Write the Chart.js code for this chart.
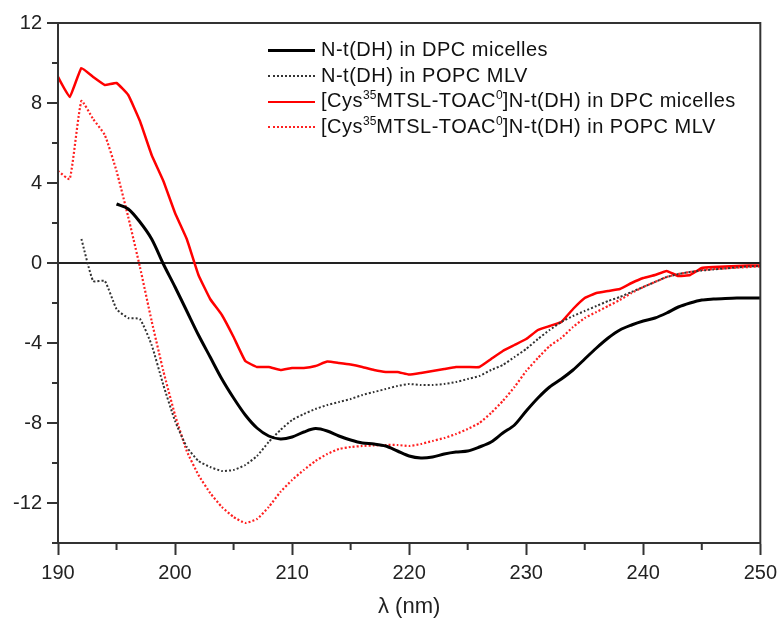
<!DOCTYPE html>
<html lang="en">

<head>
    <meta charset="UTF-8">
    <title>CD spectra</title>
    <style>
        body { margin: 0; background: #fff; }
        #wrap { position: relative; width: 783px; height: 626px; }
        #legend {
            position: absolute; left: 268px; top: 37px;
            font-family: "Liberation Sans", Arial, sans-serif; font-size: 20px; color: #111;
            letter-spacing: 0.5px;
        }
        #legend .row { height: 25.5px; line-height: 25.5px; white-space: nowrap; }
        #legend .smp { display: inline-block; width: 47px; vertical-align: middle; margin-right: 6px; }
        #legend sup { font-size: 12px; vertical-align: 8px; line-height: 0; letter-spacing: 0; }
    </style>
</head>

<body>
    <div id="wrap">
        <canvas id="myChart" width="783" height="626"></canvas>
        <div id="legend">
            <div class="row"><span class="smp" style="border-top:3px solid #000"></span>N-t(DH) in DPC micelles</div>
            <div class="row"><span class="smp" style="border-top:2px dotted #333"></span>N-t(DH) in POPC MLV</div>
            <div class="row"><span class="smp" style="border-top:2.5px solid #ff0000"></span>[Cys<sup>35</sup>MTSL-TOAC<sup>0</sup>]N-t(DH) in DPC micelles</div>
            <div class="row"><span class="smp" style="border-top:2px dotted #ff2020"></span>[Cys<sup>35</sup>MTSL-TOAC<sup>0</sup>]N-t(DH) in POPC MLV</div>
        </div>
    </div>

    <script src="https://cdn.jsdelivr.net/npm/chart.js"></script>

    <script>
        // wavelength (nm), 1 nm steps
        let v_nm = [190, 191, 192, 193, 194, 195, 196, 197, 198, 199,
            200, 201, 202, 203, 204, 205, 206, 207, 208, 209,
            210, 211, 212, 213, 214, 215, 216, 217, 218, 219,
            220, 221, 222, 223, 224, 225, 226, 227, 228, 229,
            230, 231, 232, 233, 234, 235, 236, 237, 238, 239,
            240, 241, 242, 243, 244, 245, 246, 247, 248, 249, 250];

        // N-t(DH) in DPC micelles
        let v_dpc = [null, null, null, null, null, 2.95, 2.7, 2.05, 1.2, -0.05,
            -1.2, -2.4, -3.6, -4.7, -5.8, -6.75, -7.6, -8.25, -8.65, -8.8,
            -8.7, -8.45, -8.28, -8.4, -8.65, -8.85, -9.0, -9.05, -9.15, -9.4,
            -9.65, -9.75, -9.7, -9.55, -9.45, -9.4, -9.2, -8.95, -8.5, -8.1,
            -7.4, -6.75, -6.2, -5.8, -5.35, -4.8, -4.25, -3.75, -3.35, -3.1,
            -2.9, -2.75, -2.5, -2.2, -2.0, -1.85, -1.8, -1.77, -1.75, -1.75, -1.75];

        // N-t(DH) in POPC MLV
        let v_popc = [null, null, 1.2, -0.9, -0.9, -2.3, -2.75, -2.8, -4.1, -6.1,
            -7.9, -9.2, -9.9, -10.2, -10.4, -10.35, -10.1, -9.65, -8.95, -8.35,
            -7.85, -7.55, -7.3, -7.1, -6.95, -6.8, -6.6, -6.45, -6.3, -6.15,
            -6.05, -6.1, -6.1, -6.05, -5.95, -5.8, -5.65, -5.35, -5.1, -4.7,
            -4.3, -3.8, -3.35, -2.95, -2.65, -2.4, -2.15, -1.9, -1.7, -1.45,
            -1.2, -0.95, -0.7, -0.55, -0.45, -0.38, -0.32, -0.27, -0.22, -0.17, -0.15];

        // [Cys35MTSL-TOAC0]N-t(DH) in DPC micelles
        let v_labDpc = [9.3, 8.3, 9.75, 9.3, 8.9, 9.0, 8.4, 7.1, 5.4, 4.1,
            2.5, 1.2, -0.6, -1.8, -2.6, -3.7, -4.9, -5.2, -5.2, -5.35,
            -5.25, -5.25, -5.15, -4.93, -5.0, -5.08, -5.2, -5.35, -5.45, -5.45,
            -5.58, -5.5, -5.4, -5.3, -5.2, -5.2, -5.2, -4.8, -4.4, -4.1,
            -3.8, -3.35, -3.15, -2.95, -2.3, -1.75, -1.5, -1.4, -1.3, -1.0,
            -0.75, -0.6, -0.4, -0.65, -0.6, -0.25, -0.2, -0.18, -0.15, -0.13, -0.12];

        // [Cys35MTSL-TOAC0]N-t(DH) in POPC MLV
        let v_labPopc = [4.6, 4.2, 8.1, 7.2, 6.4, 4.6, 2.3, -0.2, -2.9, -5.4,
            -7.6, -9.4, -10.6, -11.5, -12.2, -12.7, -13.0, -12.8, -12.2, -11.45,
            -10.85, -10.35, -9.9, -9.55, -9.3, -9.2, -9.15, -9.12, -9.1, -9.1,
            -9.15, -9.05, -8.9, -8.75, -8.55, -8.3, -8.0, -7.5, -6.9, -6.2,
            -5.4, -4.75, -4.15, -3.75, -3.2, -2.75, -2.45, -2.15, -1.85, -1.5,
            -1.2, -0.95, -0.7, -0.55, -0.45, -0.35, -0.3, -0.27, -0.23, -0.2, -0.17];

        let v_yTicks = [-12, -8, -4, 0, 4, 8, 12];
        let v_yMinor = [-14, -10, -6, -2, 2, 6, 10];
        let v_xMinor = [195, 205, 215, 225, 235, 245];

        function toPoints(arr) {
            let pts = [];
            for (let i = 0; i < v_nm.length; i++) {
                if (arr[i] !== null) pts.push({ x: v_nm[i], y: arr[i] });
            }
            return pts;
        }

        // frame + minor ticks
        const framePlugin = {
            id: 'frame',
            afterDraw(chart) {
                let c = chart.ctx;
                let a = chart.chartArea;
                let sx = chart.scales.x, sy = chart.scales.y;
                c.save();
                c.strokeStyle = '#333';
                c.lineWidth = 2;
                c.strokeRect(a.left, a.top, a.right - a.left, a.bottom - a.top);
                c.beginPath();
                v_yMinor.forEach(v => {
                    let py = sy.getPixelForValue(v);
                    c.moveTo(a.left - 6, py); c.lineTo(a.left, py);
                });
                v_xMinor.forEach(v => {
                    let px = sx.getPixelForValue(v);
                    c.moveTo(px, a.bottom); c.lineTo(px, a.bottom + 7);
                });
                c.stroke();
                c.restore();
            }
        };

        let ctx = document.getElementById('myChart');
        new Chart(ctx, {
            type: 'line',
            data: {
                datasets: [{
                    label: 'N-t(DH) in DPC micelles',
                    data: toPoints(v_dpc),
                    borderColor: '#000',
                    borderWidth: 3,
                    tension: 0.3
                }, {
                    label: 'N-t(DH) in POPC MLV',
                    data: toPoints(v_popc),
                    borderColor: '#333',
                    borderWidth: 2,
                    borderDash: [2, 2],
                    tension: 0.15
                }, {
                    label: '[Cys35MTSL-TOAC0]N-t(DH) in DPC micelles',
                    data: toPoints(v_labDpc),
                    borderColor: '#ff0000',
                    borderWidth: 2.5,
                    tension: 0.1
                }, {
                    label: '[Cys35MTSL-TOAC0]N-t(DH) in POPC MLV',
                    data: toPoints(v_labPopc),
                    borderColor: '#ff2020',
                    borderWidth: 2.2,
                    borderDash: [2, 2],
                    tension: 0.15
                }]
            },
            options: {
                responsive: false,
                animation: false,
                layout: { padding: { top: 23, right: 21, left: 0, bottom: 0 } },
                elements: {
                    point: { radius: 0 }
                },
                plugins: {
                    legend: { display: false },
                    tooltip: { enabled: false }
                },
                scales: {
                    x: {
                        type: 'linear',
                        min: 190, max: 250,
                        afterFit: s => { s.height = 83; },
                        ticks: {
                            stepSize: 10,
                            padding: 6,
                            color: '#222',
                            font: { family: 'Liberation Sans', size: 20 }
                        },
                        grid: {
                            drawOnChartArea: false,
                            tickLength: 12,
                            tickColor: '#333',
                            tickWidth: 2
                        },
                        border: { color: '#333', width: 2 },
                        title: {
                            display: true,
                            text: 'λ (nm)',
                            color: '#222',
                            font: { family: 'Liberation Sans', size: 22 },
                            padding: { top: 4, bottom: 6 }
                        }
                    },
                    y: {
                        min: -14, max: 12,
                        afterFit: s => { s.width = 58; },
                        afterBuildTicks: s => { s.ticks = v_yTicks.map(v => ({ value: v })); },
                        ticks: {
                            padding: 5,
                            color: '#222',
                            font: { family: 'Liberation Sans', size: 20 }
                        },
                        grid: {
                            color: c => c.tick && c.tick.value === 0 ? '#222' : 'rgba(0,0,0,0)',
                            lineWidth: 2,
                            tickLength: 11,
                            tickColor: '#333',
                            tickWidth: 2
                        },
                        border: { color: '#333', width: 2 }
                    }
                }
            },
            plugins: [framePlugin]
        });
    </script>
</body>

</html>
